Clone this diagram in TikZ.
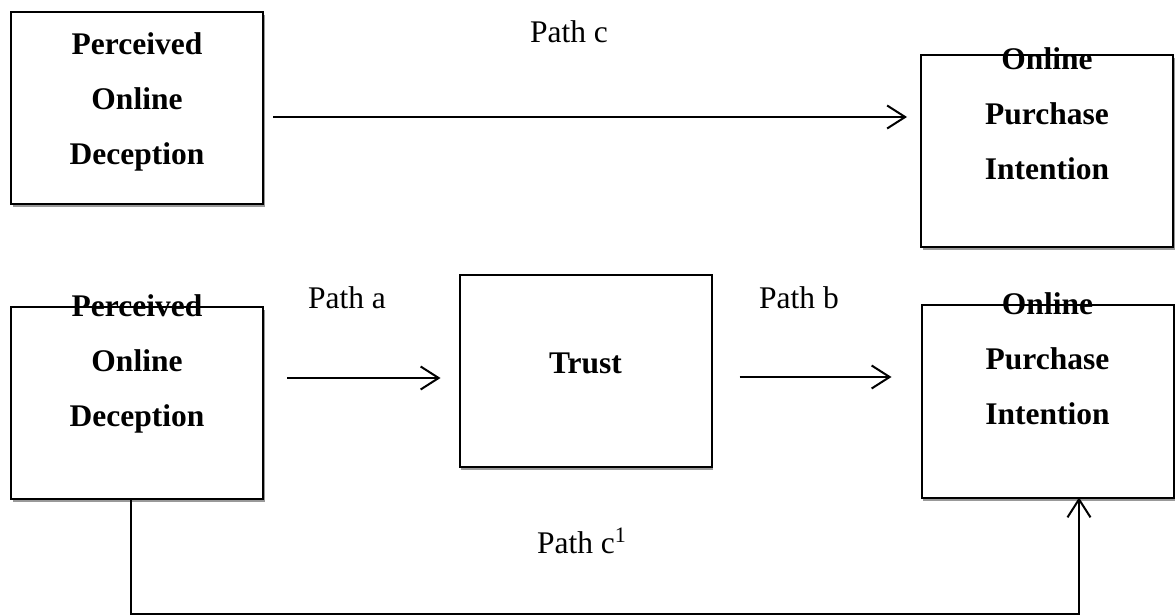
\documentclass[tikz,border=0pt]{standalone}
\usepackage{fontspec}
\setmainfont{Liberation Serif}
\usetikzlibrary{arrows.meta,shadows,calc}
\begin{document}
\begin{tikzpicture}[x=0.5pt,y=-0.5pt,
  box/.style={draw, line width=1pt, fill=white, minimum width=126pt, minimum height=96pt,
    inner sep=0pt, outer sep=0pt,
    drop shadow={shadow xshift=0.8pt, shadow yshift=-1.5pt, fill=black!40, opacity=1}},
  boxtext/.style={font=\fontsize{15.75}{27.5}\selectfont\bfseries, align=center, inner sep=0pt, anchor=north},
  lab/.style={font=\fontsize{15.75}{19}\selectfont, inner sep=0pt, anchor=base},
  arr/.style={line width=1pt, -{Straight Barb[length=9pt,width=11.5pt,line width=1pt]}}]
\useasboundingbox (0,0) rectangle (1175,615);
% boxes
\node[box] (b1) at (137,108) {};
\node[box] (b2) at (1047,151.5) {};
\node[box] (b3) at (137,403) {};
\node[box] (tr) at (585.5,371) {};
\node[box] (b5) at (1047.5,401.5) {};
% box texts
\node[boxtext] (t1) at ([yshift=-10.25pt]b1.north) {Perceived\\Online\\Deception};
\node[boxtext] (t2) at ([yshift=4.25pt]b2.north) {Online\\Purchase\\Intention};
\node[boxtext] (t3) at ([yshift=6.25pt]b3.north) {Perceived\\Online\\Deception};
\node[boxtext, anchor=base] (t4) at ([yshift=-1pt]tr.center) {Trust};
\node[boxtext] (t5) at ([yshift=6.75pt]b5.north) {Online\\Purchase\\Intention};
% labels
\node[lab] (lc) at (569,43) {Path c};
\node[lab] (la) at (347,308) {Path a};
\node[lab] (lb) at (799,308) {Path b};
\node[lab] (lc1) at (582,553) {Path c\textsuperscript{1}};
% connectors
\draw[arr, shorten <=5pt, shorten >=7pt] ([yshift=-4.5pt]b1.east) -- ([yshift=-4.5pt]b1.east -| b2.west);
\draw[arr, shorten <=12pt, shorten >=9.5pt] ([yshift=12.5pt]b3.east) -- ([yshift=12.5pt]b3.east -| tr.west);
\draw[arr, shorten <=14pt, shorten >=15pt] ([yshift=-3pt]tr.east) -- ([yshift=-3pt]tr.east -| b5.west);
\draw[arr] ([xshift=-3pt]b3.south) -- ++(0,114.5) -| ([xshift=15.75pt]b5.south);
\end{tikzpicture}
\end{document}
